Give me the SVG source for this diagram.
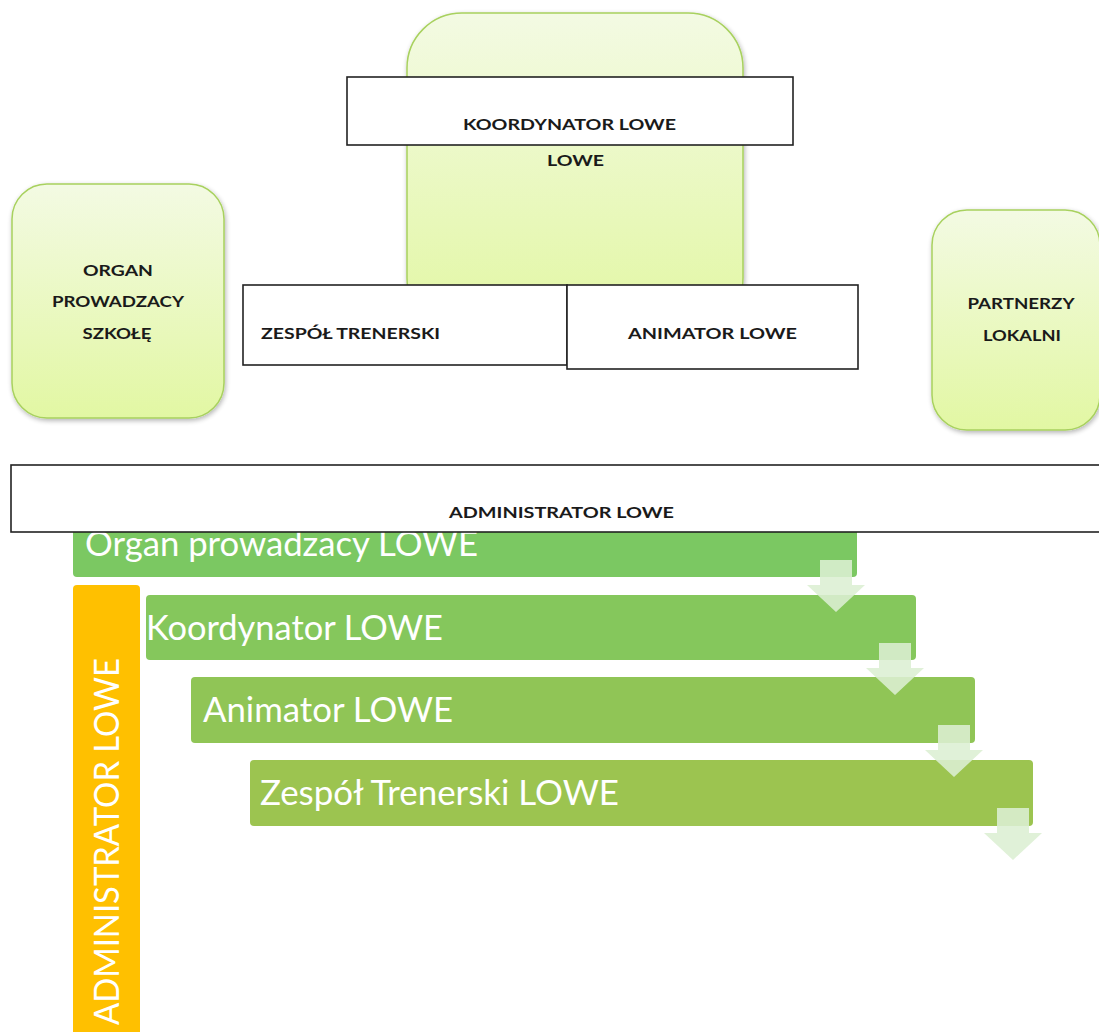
<svg xmlns="http://www.w3.org/2000/svg" width="1099" height="1032" viewBox="0 0 1099 1032">
<defs>
<linearGradient id="gg" x1="0" y1="0" x2="0" y2="1">
<stop offset="0" stop-color="#f3fae3"/>
<stop offset="1" stop-color="#e2f7a3"/>
</linearGradient>
<filter id="sh" x="-10%" y="-10%" width="130%" height="130%">
<feGaussianBlur in="SourceAlpha" stdDeviation="2.5"/>
<feOffset dx="1" dy="2" result="b"/>
<feComponentTransfer><feFuncA type="linear" slope="0.3"/></feComponentTransfer>
<feMerge><feMergeNode/><feMergeNode in="SourceGraphic"/></feMerge>
</filter>
<path id="arr" d="M-16,0 H16 V25 H29 L0,52 L-29,25 H-16 Z"/>
</defs>
<style>
.rr{fill:url(#gg);stroke:#a8d15e;stroke-width:1.5}
.bx{fill:#ffffff;stroke:#222;stroke-width:1.6}
.t{font-family:Lato,"Open Sans","Liberation Sans",sans-serif;font-weight:bold;font-size:16px;fill:#1a1a1a}
.big{font-family:Lato,"Open Sans","Liberation Sans",sans-serif;font-size:34px;fill:#ffffff}
.ar{fill:#dcefd3;fill-opacity:0.88}
</style>

<g id="node-center-bg">
<rect class="rr" x="407" y="13" width="336" height="320" rx="55" ry="55" filter="url(#sh)"/>
</g>
<g id="node-organ">
<rect class="rr" x="12" y="184" width="212" height="234" rx="35" ry="35" filter="url(#sh)"/>
<text class="t" x="118" y="276" text-anchor="middle" textLength="70" lengthAdjust="spacingAndGlyphs">ORGAN</text>
<text class="t" x="118" y="307" text-anchor="middle" textLength="132" lengthAdjust="spacingAndGlyphs">PROWADZACY</text>
<text class="t" x="117" y="339" text-anchor="middle" textLength="69" lengthAdjust="spacingAndGlyphs">SZKOŁĘ</text>
</g>
<g id="node-partnerzy">
<rect class="rr" x="932" y="210" width="168" height="220" rx="35" ry="35" filter="url(#sh)"/>
<text class="t" x="1021" y="309" text-anchor="middle" textLength="107" lengthAdjust="spacingAndGlyphs">PARTNERZY</text>
<text class="t" x="1022" y="341" text-anchor="middle" textLength="78" lengthAdjust="spacingAndGlyphs">LOKALNI</text>
</g>
<g id="node-koordynator">
<rect class="bx" x="347" y="77" width="446" height="68"/>
<text class="t" x="463" y="130" textLength="213" lengthAdjust="spacingAndGlyphs">KOORDYNATOR LOWE</text>
</g>
<text class="t" x="547" y="166" textLength="57" lengthAdjust="spacingAndGlyphs">LOWE</text>
<g id="node-zespol">
<rect class="bx" x="243" y="285" width="324" height="80"/>
<text class="t" x="261" y="339" textLength="179" lengthAdjust="spacingAndGlyphs">ZESPÓŁ TRENERSKI</text>
</g>
<g id="node-animator">
<rect class="bx" x="567" y="285" width="291" height="84"/>
<text class="t" x="628" y="339" textLength="169" lengthAdjust="spacingAndGlyphs">ANIMATOR LOWE</text>
</g>

<g id="node-bar1">
<rect x="73" y="505" width="784" height="72" rx="4" fill="#7bc862"/>
<text class="big" x="85" y="556" textLength="393" lengthAdjust="spacingAndGlyphs">Organ prowadzacy LOWE</text>
</g>
<g id="node-administrator">
<rect class="bx" x="11" y="465" width="1100" height="67"/>
<text class="t" x="449" y="518" textLength="225" lengthAdjust="spacingAndGlyphs">ADMINISTRATOR LOWE</text>
</g>
<g id="node-admin-vertical">
<rect x="73" y="585" width="67" height="460" rx="4" fill="#ffc000"/>
<text class="big" transform="translate(119,1025) rotate(-90)" x="0" y="0" textLength="367" lengthAdjust="spacingAndGlyphs">ADMINISTRATOR LOWE</text>
</g>
<g id="node-bar2">
<rect x="146" y="595" width="770" height="65" rx="4" fill="#85c75c"/>
<text class="big" x="146" y="640" textLength="297" lengthAdjust="spacingAndGlyphs">Koordynator LOWE</text>
</g>
<g id="node-bar3">
<rect x="191" y="677" width="784" height="66" rx="4" fill="#90c556"/>
<text class="big" x="203" y="722" textLength="250" lengthAdjust="spacingAndGlyphs">Animator LOWE</text>
</g>
<g id="node-bar4">
<rect x="250" y="760" width="783" height="66" rx="4" fill="#9cc450"/>
<text class="big" x="260" y="805" textLength="359" lengthAdjust="spacingAndGlyphs">Zespół Trenerski LOWE</text>
</g>

<g id="connectors">
<use href="#arr" class="ar" x="836" y="560"/>
<use href="#arr" class="ar" x="895" y="643"/>
<use href="#arr" class="ar" x="954" y="725"/>
<use href="#arr" class="ar" x="1013" y="808"/>
</g>
</svg>
